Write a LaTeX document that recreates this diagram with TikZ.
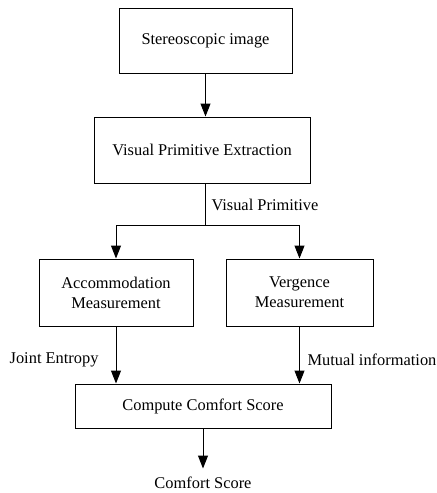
\documentclass[tikz,border=0pt]{standalone}
\usepackage{fontspec}
\setmainfont{Liberation Serif}
\usetikzlibrary{arrows.meta}

\begin{document}
\begin{tikzpicture}[x=0.5pt, y=-0.5pt, line width=0.5pt,
    font=\fontsize{8.2}{10}\selectfont,
    block/.style={draw, rectangle, align=center, inner sep=0pt},
    flow/.style={-{Triangle[length=6.5pt,width=5pt]}},
    tag/.style={inner sep=0pt}]
    \useasboundingbox (0,0) rectangle (437,493);

    \node[block, minimum width=86.5pt, minimum height=32.5pt] (stereo) at (205.5,40.5) {Stereoscopic image};
    \node[block, minimum width=108pt, minimum height=33pt] (vpe) at (202,150) {Visual Primitive Extraction};
    \node[block, minimum width=77pt, minimum height=33.5pt] (acc) at (116,292.5) {Accommodation\\Measurement};
    \node[block, minimum width=73.5pt, minimum height=33.5pt] (verg) at (299.5,292.5) {Vergence\\Measurement};
    \node[block, minimum width=128pt, minimum height=22pt] (cmp) at (203,406) {Compute Comfort Score};
    \node[tag, anchor=north] (score) at (203,476) {Comfort Score};
    \coordinate (split) at (205.5,225);

    % connectors
    \draw[flow] (stereo) -- (stereo |- vpe.north);
    \draw (vpe.south -| split) -- (split);
    \draw[flow] (split) -| (acc.north);
    \draw[flow] (split) -| (verg.north);
    \draw[flow] (acc.south) -- (acc.south |- cmp.north);
    \draw[flow] (verg.south) -- (verg.south |- cmp.north);
    \draw[flow] (cmp.south) -- ++(0,40);

    % labels
    \node[tag, anchor=west] (vplab) at (211,205) {Visual Primitive};
    \node[tag, anchor=east] (jelab) at (99,360) {Joint Entropy};
    \node[tag, anchor=west] (milab) at (307,360) {Mutual information};
\end{tikzpicture}
\end{document}
